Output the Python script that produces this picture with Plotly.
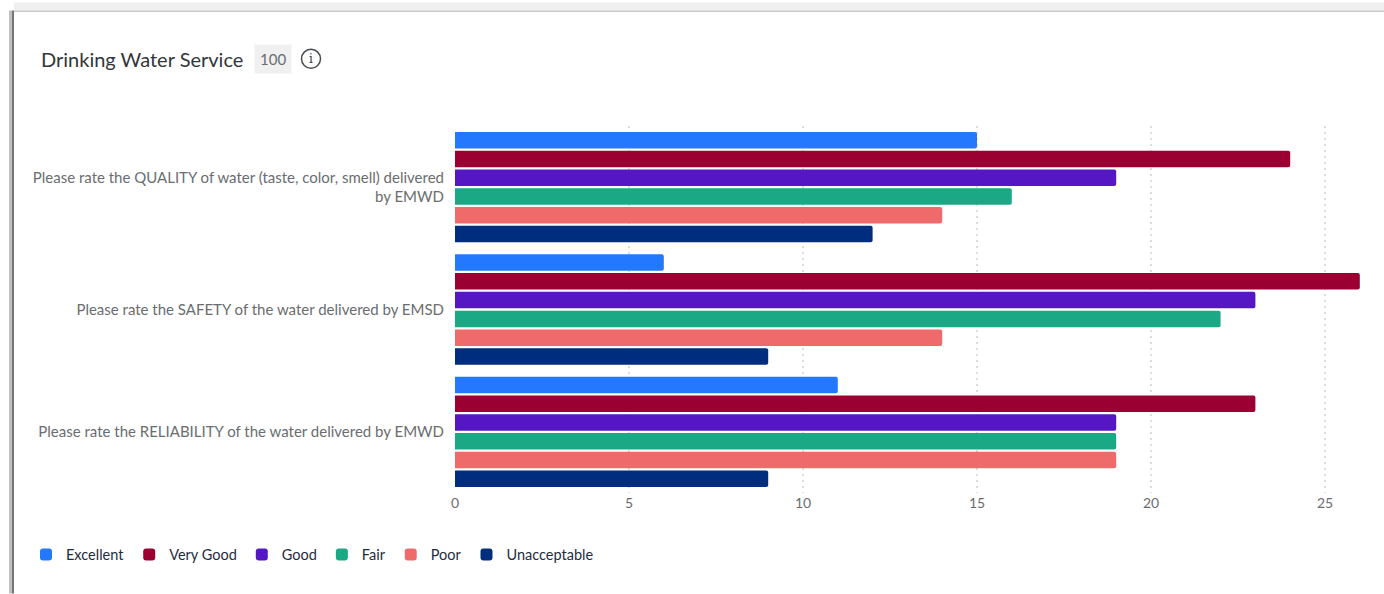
import plotly.graph_objects as go

# Survey questions and the number of responses per rating
questions = [
    "Please rate the QUALITY of water (taste, color, smell) delivered<br>by EMWD",
    "Please rate the SAFETY of the water delivered by EMSD",
    "Please rate the RELIABILITY of the water delivered by EMWD",
]
excellent = [15, 6, 11]
very_good = [24, 26, 23]
good = [19, 23, 19]
fair = [16, 22, 19]
poor = [14, 14, 19]
unacceptable = [12, 9, 9]
x_ticks = [0, 5, 10, 15, 20, 25]

series = [
    ("Excellent", excellent, "#2478fd"),
    ("Very Good", very_good, "#9b0032"),
    ("Good", good, "#5517c4"),
    ("Fair", fair, "#1ba884"),
    ("Poor", poor, "#ef6a6a"),
    ("Unacceptable", unacceptable, "#002d7e"),
]

WIDTH, HEIGHT = 1384, 594
LEFT, TOP, BOTTOM = 455, 125.75, 100.75
FONT = "Lato"


def px_x(px):
    return (px - LEFT) / (WIDTH - LEFT)


def px_y(px):
    return 1 - (px - TOP) / (HEIGHT - TOP - BOTTOM)


fig = go.Figure()
for name, values, colour in series:
    fig.add_trace(go.Bar(y=questions, x=values, name=name, orientation="h",
                         marker=dict(color=colour, line=dict(width=0))))

# Card frame: grey strip along the top and shaded left edge
frame = [
    (14, 2, WIDTH, 10, "#efefef"),
    (14, 10, WIDTH, 11.5, "#c9c9c9"),
    (9, 10, 12, HEIGHT, "#c0c0c0"),
    (12, 10, 14, HEIGHT, "#757575"),
]
shapes = [dict(type="rect", xref="paper", yref="paper", x0=px_x(a), x1=px_x(c),
               y0=px_y(b), y1=px_y(d), fillcolor=col, line=dict(width=0), layer="below")
          for a, b, c, d, col in frame]

# Information icon next to the response count
shapes.append(dict(type="circle", xref="paper", yref="paper",
                   x0=px_x(301.5), x1=px_x(320.5), y0=px_y(49), y1=px_y(68),
                   line=dict(color="#4a4d50", width=1.5), fillcolor="white"))

annotations = [
    dict(text="Drinking Water Service", xref="paper", yref="paper", x=px_x(38.5), y=px_y(58.5),
         xanchor="left", yanchor="middle", showarrow=False,
         font=dict(family=FONT, size=20, color="#32363a")),
    dict(text="100", xref="paper", yref="paper", x=px_x(272.5), y=px_y(59),
         xanchor="center", yanchor="middle", showarrow=False, bgcolor="#f0f0f0",
         borderpad=5, font=dict(family=FONT, size=15, color="#6a6d70")),
    dict(text="i", xref="paper", yref="paper", x=px_x(311), y=px_y(58.5),
         xanchor="center", yanchor="middle", showarrow=False,
         font=dict(family="DejaVu Serif", size=12, color="#32363a")),
]

fig.update_layout(
    width=WIDTH, height=HEIGHT,
    margin=dict(l=LEFT, r=0, t=TOP, b=BOTTOM, pad=0, autoexpand=False),
    paper_bgcolor="white", plot_bgcolor="white",
    barmode="group", bargap=0.08, bargroupgap=0.12, barcornerradius=2,
    font=dict(family=FONT, size=14, color="#6a6d70"),
    shapes=shapes, annotations=annotations,
    legend=dict(orientation="h", x=px_x(26), y=px_y(555), xanchor="left", yanchor="middle",
                font=dict(family=FONT, size=14.5, color="#1d2d3e"), traceorder="normal",
                itemclick=False, itemdoubleclick=False),
    xaxis=dict(range=[0, (WIDTH - LEFT) / 34.8], tickvals=x_ticks, showgrid=True,
               griddash="2px,4px", gridcolor="#dddddd", gridwidth=2, zeroline=False,
               showline=False, ticks="", tickfont=dict(size=14, color="#6a6d70")),
    yaxis=dict(autorange="reversed", showgrid=False, zeroline=False, showline=False,
               ticks="outside", ticklen=7, tickcolor="rgba(0,0,0,0)",
               tickfont=dict(size=15, color="#6a6d70")),
)

fig.write_html("out.html")
